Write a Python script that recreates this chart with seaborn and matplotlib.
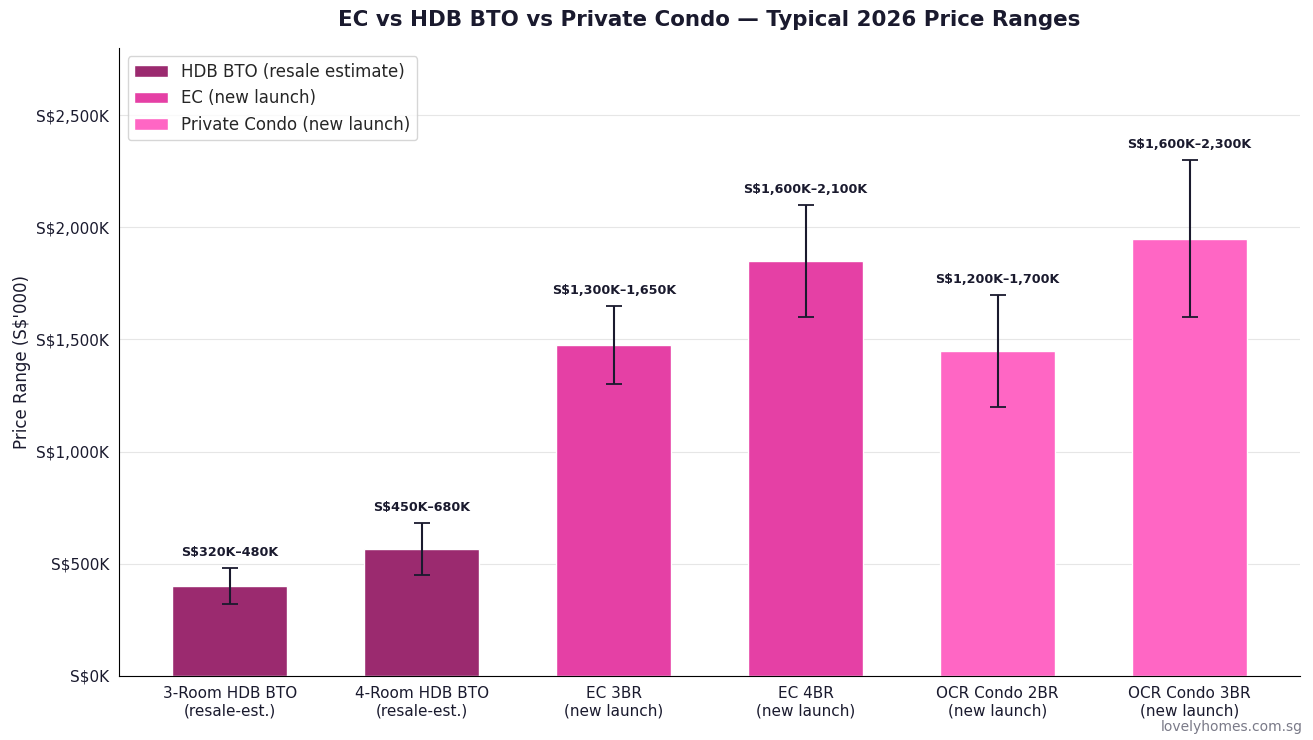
import matplotlib
matplotlib.use("Agg")
import matplotlib.pyplot as plt
import matplotlib.ticker as mticker
import seaborn as sns
import pandas as pd

# price ranges in S$'000
categories = ["3-Room HDB BTO\n(resale-est.)", "4-Room HDB BTO\n(resale-est.)",
              "EC 3BR\n(new launch)", "EC 4BR\n(new launch)",
              "OCR Condo 2BR\n(new launch)", "OCR Condo 3BR\n(new launch)"]
low = [320, 450, 1300, 1600, 1200, 1600]
high = [480, 680, 1650, 2100, 1700, 2300]
groups = ["HDB BTO (resale estimate)", "HDB BTO (resale estimate)",
          "EC (new launch)", "EC (new launch)",
          "Private Condo (new launch)", "Private Condo (new launch)"]
range_labels = ["S$320K–480K", "S$450K–680K", "S$1,300K–1,650K",
                "S$1,600K–2,100K", "S$1,200K–1,700K", "S$1,600K–2,300K"]
palette = {"HDB BTO (resale estimate)": "#9B2A6F",
           "EC (new launch)": "#E540A5",
           "Private Condo (new launch)": "#FF66C4"}

df = pd.DataFrame({"cat": categories, "low": low, "high": high, "group": groups})
df["mid"] = (df["low"] + df["high"]) / 2
df["err"] = (df["high"] - df["low"]) / 2

sns.set_style("white")
dark = "#1a1a2e"

fig, ax = plt.subplots(figsize=(13.13, 7.4), dpi=100)
sns.barplot(data=df, x="cat", y="mid", hue="group", palette=palette,
            dodge=False, width=0.6, saturation=1, ax=ax)

# range whiskers
ax.errorbar(range(len(df)), df["mid"], yerr=df["err"], fmt="none",
            ecolor=dark, elinewidth=1.5, capsize=6, capthick=1.3, zorder=3)

for i, row in df.iterrows():
    ax.text(i, row["high"] + 40, range_labels[i], ha="center", va="bottom",
            fontsize=9.2, fontweight="bold", color=dark)

ax.set_ylim(0, 2800)
ax.set_xlim(-0.575, 5.575)
ax.set_yticks([0, 500, 1000, 1500, 2000, 2500])
ax.yaxis.set_major_formatter(mticker.FuncFormatter(lambda v, p: f"S${v:,.0f}K"))
ax.tick_params(axis="both", labelsize=11, colors=dark, length=4)
ax.set_xlabel("")
ax.set_ylabel("Price Range (S$'000)", fontsize=12, color=dark)
ax.grid(axis="y", color="#e6e6e6", linewidth=0.8)
ax.set_axisbelow(True)
sns.despine(ax=ax)
ax.spines["left"].set_color("black")
ax.spines["bottom"].set_color("black")

ax.set_title("EC vs HDB BTO vs Private Condo — Typical 2026 Price Ranges",
             fontsize=15.4, fontweight="bold", color=dark, pad=16)
ax.legend(loc="upper left", fontsize=12, frameon=True, title=None)

fig.text(0.992, 0.008, "lovelyhomes.com.sg", ha="right", va="bottom",
         fontsize=10, color="#7a7a88")

plt.subplots_adjust(left=0.091, right=0.99, top=0.935, bottom=0.087)
fig.savefig("out.png", dpi=100)
